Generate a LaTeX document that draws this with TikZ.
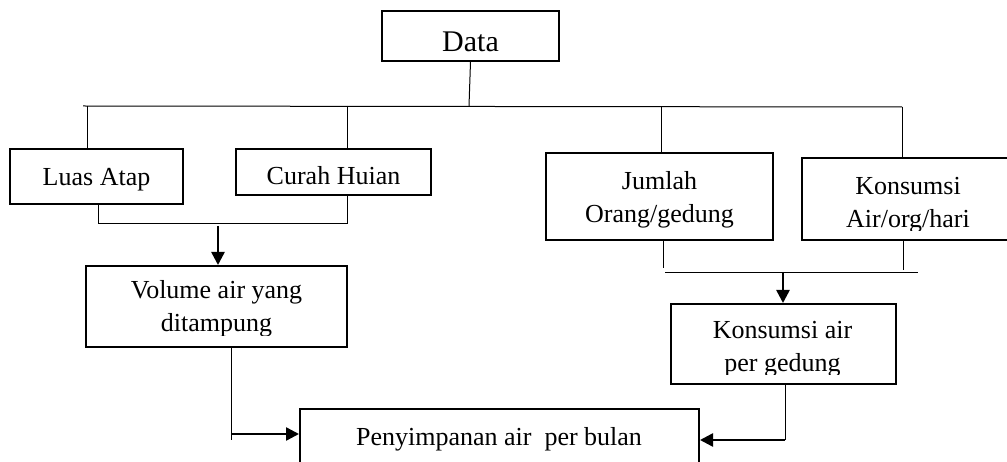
\documentclass[tikz,border=0pt]{standalone}
\usepackage{fontspec}
\setmainfont{Liberation Serif}
\usetikzlibrary{arrows.meta}
\begin{document}
\begin{tikzpicture}[x=1pt,y=-1pt,
  boxnode/.style={draw,line width=2pt,rectangle,inner sep=0pt},
  txt/.style={inner sep=0pt,anchor=base,align=center,font=\fontsize{26}{33.5}\selectfont},
  conn/.style={line width=1pt},
  arr/.style={line width=2.5pt,-{Triangle[length=13pt,width=13pt]}}]
\clip (0,0) rectangle (1007,462);
% boxes
\node[boxnode,minimum width=177pt,minimum height=50pt] (data) at (470.5,36) {};
\node[boxnode,minimum width=173pt,minimum height=55pt] (luas) at (96.5,176.5) {};
\node[boxnode,minimum width=195pt,minimum height=46pt] (curah) at (333.5,172) {};
\node[boxnode,minimum width=227pt,minimum height=87pt] (jumlah) at (659.5,196.5) {};
\node[boxnode,minimum width=218pt,minimum height=82pt] (kons) at (911,199) {};
\node[boxnode,minimum width=261pt,minimum height=81pt] (vol) at (216.5,306.5) {};
\node[boxnode,minimum width=225pt,minimum height=80pt] (kair) at (783.5,344) {};
\node[boxnode,minimum width=399pt,minimum height=71pt] (peny) at (499.5,444.5) {};
% texts (base anchor = baseline of the last line)
\node[txt,font=\fontsize{30}{36}\selectfont] (datat) at (470.5,52) {Data};
\node[txt] (luast) at (96.5,186) {Luas Atap};
\node[txt] (curaht) at (333.5,185) {Curah Huian};
\node[txt] (jumlaht) at (659.5,223) {Jumlah\\Orang/gedung};
\begin{scope}
\clip (802,158) rectangle (1007,231);
\node[txt] (konst) at (908,228) {Konsumsi\\Air/org/hari};
\end{scope}
\begin{scope}
\clip (86,266) rectangle (347,336);
\node[txt] (volt) at (216.5,332) {Volume air yang\\ditampung};
\end{scope}
\begin{scope}
\clip (671,304) rectangle (896,374);
\node[txt] (kairt) at (782.5,372) {Konsumsi air\\per gedung};
\end{scope}
\node[txt] (penyt) at (499,445) {Penyimpanan air\ \ per bulan};
% top bus
\coordinate (b0) at (469,106);
\coordinate (bL) at (83,106);
\coordinate (b1) at (87,106);
\coordinate (b2) at (347,106);
\coordinate (b3) at (661,107);
\coordinate (b4) at (902,107);
\draw[conn] (data.south) -- (b0);
\draw[conn] (bL) -- (b4);
\draw[conn] (b1) -- (b1 |- luas.north);
\draw[conn] (b2) -- (b2 |- curah.north);
\draw[conn] (b3) -- (b3 |- jumlah.north);
\draw[conn] (b4) -- (b4 |- kons.north);
% left join
\coordinate (j1) at (98,224);
\coordinate (j2) at (347,224);
\draw[conn] (j1 |- luas.south) -- (j1) -- (j2) -- (j2 |- curah.south);
\coordinate (a1) at (218,226);
\draw[arr] (a1) -- (a1 |- vol.north);
% right join
\coordinate (k1) at (663,268);
\coordinate (k2) at (903,270);
\coordinate (h1) at (665,273);
\coordinate (h2) at (918,273);
\draw[conn] (k1 |- jumlah.south) -- (k1);
\draw[conn] (k2 |- kons.south) -- (k2);
\draw[conn] (h1) -- (h2);
\coordinate (a2) at (783,272);
\draw[arr] (a2) -- (a2 |- kair.north);
% to storage
\coordinate (v1) at (231,440);
\coordinate (v2) at (232,434);
\draw[conn] (v1 |- vol.south) -- (v1);
\draw[arr] (v2) -- (v2 -| peny.west);
\coordinate (c1) at (785,440);
\draw[conn] (c1 |- kair.south) -- (c1);
\draw[arr] (c1) -- (c1 -| peny.east);
\end{tikzpicture}
\end{document}
